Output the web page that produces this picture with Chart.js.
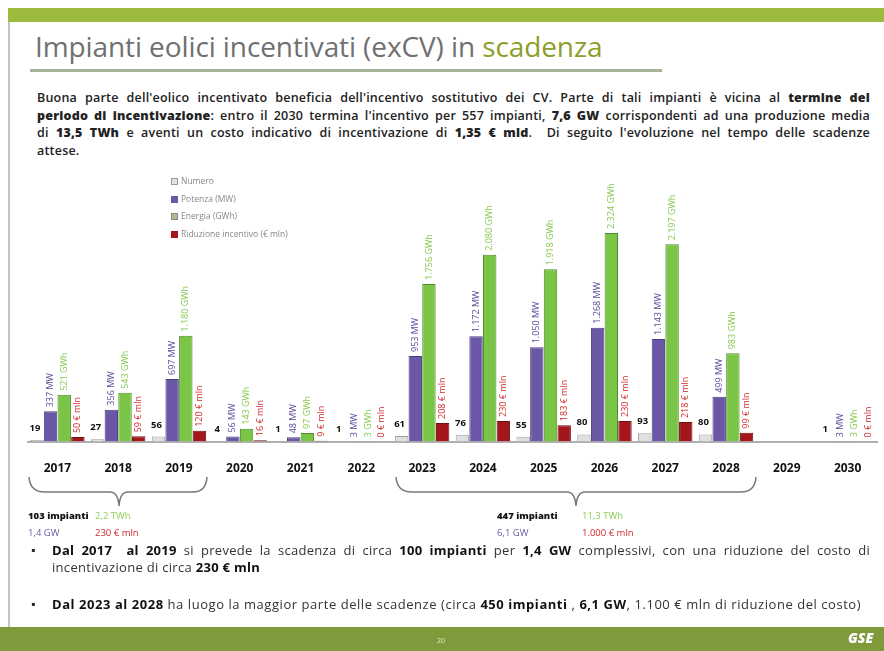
<!DOCTYPE html>
<html><head><meta charset="utf-8">
<script src="https://cdn.jsdelivr.net/npm/chart.js@4/dist/chart.umd.min.js"></script>
<style>
body{margin:0;background:#fff;}
#page{position:relative;width:884px;height:651px;overflow:hidden;background:#fff;font-family:"Open Sans",sans-serif;}
.abs{position:absolute;}
#title{left:35px;top:27px;font-size:28px;color:#707070;white-space:nowrap;letter-spacing:-0.1px;}
#title span{color:#8c9e2c;}
#para{left:37px;top:89px;width:833px;font-size:12.5px;line-height:17.5px;color:#222;font-weight:600;letter-spacing:0.2px;}
#para div{text-align:justify;text-align-last:justify;white-space:nowrap;}
#para div.last{text-align-last:left;}
#para b{font-weight:800;}
#legend{left:171px;top:172px;font-size:8.5px;color:#888;line-height:17.5px;}
#legend i{display:inline-block;width:7px;height:7px;margin-right:3px;vertical-align:-1px;box-sizing:border-box;}
.sum{font-size:9.5px;white-space:nowrap;}
.bul{left:52px;font-size:13px;color:#333;font-weight:400;white-space:nowrap;letter-spacing:0.55px;}
.bul b{font-weight:700;color:#111;}
.mk{left:31px;font-size:12px;color:#222;}
#b1{width:818px;text-align:justify;text-align-last:justify;letter-spacing:0.3px;}
</style></head>
<body><div id="page">
<div class="abs" style="left:8px;top:8px;width:876px;height:14px;background:#9cba3c;"></div>
<div class="abs" style="left:8px;top:22px;width:2px;height:605px;background:#c4c4c4;"></div>
<div class="abs" id="title">Impianti eolici incentivati (exCV) in <span>scadenza</span></div>
<div class="abs" style="left:30px;top:69px;width:632px;height:3px;background:#a8b29a;"></div>
<div class="abs" id="para">
<div>Buona parte dell'eolico incentivato beneficia dell'incentivo sostitutivo dei CV. Parte di tali impianti è vicina al <b>termine del</b></div>
<div><b>periodo di incentivazione</b>: entro il 2030 termina l'incentivo per 557 impianti, <b>7,6 GW</b> corrispondenti ad una produzione media</div>
<div>di <b>13,5 TWh</b> e aventi un costo indicativo di incentivazione di <b>1,35 € mld</b>.&nbsp; Di seguito l'evoluzione nel tempo delle scadenze</div>
<div class="last">attese.</div>
</div>
<div class="abs" style="left:27px;top:165px;width:851px;height:323px;"><canvas id="c" width="851" height="323"></canvas></div>
<div class="abs" id="legend">
<div><i style="background:#e2e2e2;border:1px solid #999"></i>Numero</div>
<div><i style="background:#6a58a6"></i>Potenza (MW)</div>
<div><i style="background:#a9c08e;border:1px solid #888"></i>Energia (GWh)</div>
<div><i style="background:#a3171c"></i>Riduzione incentivo (€ mln)</div>
</div>
<svg class="abs" style="left:0;top:0" width="884" height="651">
<path d="M29 477 Q30 492 45 492 L110 492 Q118 492 119 506 Q120 492 128 492 L193 492 Q206 492 207 477" fill="none" stroke="#777" stroke-width="1.5"/>
<path d="M396 477 Q397 492 412 492 L567 492 Q575 492 576 506 Q577 492 585 492 L741 492 Q755 492 756 477" fill="none" stroke="#777" stroke-width="1.5"/>
</svg>
<div class="abs sum" style="left:28px;top:509px;color:#111;font-weight:800;">103 impianti</div>
<div class="abs sum" style="left:95px;top:509px;color:#8fcf55;">2,2 TWh</div>
<div class="abs sum" style="left:28px;top:526px;color:#6a5aa6;">1,4 GW</div>
<div class="abs sum" style="left:95px;top:526px;color:#d0292a;">230 € mln</div>
<div class="abs sum" style="left:497px;top:509px;color:#111;font-weight:800;">447 impianti</div>
<div class="abs sum" style="left:582px;top:509px;color:#8fcf55;">11,3 TWh</div>
<div class="abs sum" style="left:497px;top:526px;color:#6a5aa6;">6,1 GW</div>
<div class="abs sum" style="left:582px;top:526px;color:#d0292a;">1.000 € mln</div>
<div class="abs mk" style="top:541px;">▪</div>
<div class="abs bul" id="b1" style="top:541px;"><b>Dal 2017&nbsp; al 2019</b> si prevede la scadenza di circa <b>100 impianti</b> per <b>1,4 GW</b> complessivi, con una riduzione del costo di</div>
<div class="abs bul" style="top:558px;letter-spacing:0.3px;">incentivazione di circa <b>230 € mln</b></div>
<div class="abs mk" style="top:595px;">▪</div>
<div class="abs bul" style="top:595px;"><b>Dal 2023 al 2028</b> ha luogo la maggior parte delle scadenze (circa <b>450 impianti</b> , <b>6,1 GW</b>, 1.100 € mln di riduzione del costo)</div>
<div class="abs" style="left:0;top:627px;width:884px;height:24px;background:#7e9a3b;"></div>
<div class="abs" style="left:437px;top:636px;font-size:7px;color:#dfe8c8;">20</div>
<div class="abs" style="left:848px;top:628px;font-size:14px;font-style:italic;font-weight:800;color:#fff;">GSE</div>
</div>
<script>
const years = ['2017','2018','2019','2020','2021','2022','2023','2024','2025','2026','2027','2028','2029','2030'];
const numero = [19, 27, 56, 4, 1, 1, 61, 76, 55, 80, 93, 80, null, 1];
const potenza = [337, 356, 697, 56, 48, 3, 953, 1172, 1050, 1268, 1143, 499, null, 3];
const energia = [521, 543, 1180, 143, 97, 3, 1756, 2080, 1918, 2324, 2197, 983, null, 3];
const riduzione = [50, 59, 120, 16, 9, 0, 208, 230, 183, 230, 218, 99, null, 0];
const seriesNames = ['Numero', 'Potenza (MW)', 'Energia (GWh)', 'Riduzione incentivo (€ mln)'];
const units = ['', ' MW', ' GWh', ' € mln'];

function fmt(v){ return String(v).replace(/\B(?=(\d{3})+(?!\d))/g, '.'); }

const labelColors = ['#111', '#5b4b9e', '#86c94e', '#d0292a'];
const labelPlugin = {
  id: 'barLabels',
  afterDatasetsDraw(chart){
    const ctx = chart.ctx;
    chart.data.datasets.forEach((ds, i) => {
      const meta = chart.getDatasetMeta(i);
      meta.data.forEach((bar, j) => {
        const v = ds.data[j];
        if (v === null || v === undefined) return;
        ctx.save();
        if (i === 0) {
          ctx.font = 'bold 9.5px "Open Sans"';
          ctx.fillStyle = labelColors[0];
          ctx.textAlign = 'center';
          ctx.textBaseline = 'bottom';
          ctx.fillText(fmt(v), bar.x - 2, bar.y - 7);
        } else {
          ctx.font = '9px "Open Sans"';
          ctx.fillStyle = labelColors[i];
          ctx.translate(bar.x, bar.y - 4);
          ctx.rotate(-Math.PI / 2);
          ctx.textAlign = 'left';
          ctx.textBaseline = 'middle';
          ctx.fillText(fmt(v) + units[i], 0, 0);
        }
        ctx.restore();
      });
    });
  }
};

new Chart(document.getElementById('c'), {
  type: 'bar',
  data: {
    labels: years,
    datasets: [
      { label: seriesNames[0], data: numero, backgroundColor: '#e0e0e0', borderColor: '#a0a0a0', borderWidth: 1 },
      { label: seriesNames[1], data: potenza, backgroundColor: '#6a58a6', borderColor: '#4a3d80', borderWidth: 1 },
      { label: seriesNames[2], data: energia, backgroundColor: '#7ac545', borderColor: '#4f8a2c', borderWidth: 1 },
      { label: seriesNames[3], data: riduzione, backgroundColor: '#a3171c', borderColor: '#6e0f12', borderWidth: 1 }
    ]
  },
  options: {
    responsive: false,
    animation: false,
    layout: { padding: 0 },
    datasets: { bar: { categoryPercentage: 0.9, barPercentage: 0.98 } },
    plugins: { legend: { display: false }, tooltip: { enabled: false } },
    scales: {
      x: {
        grid: { display: false },
        border: { color: '#b0b0b0', width: 2 },
        ticks: { color: '#111', font: { family: 'Open Sans', size: 12, weight: 'bold' }, padding: 12 }
      },
      y: { display: false, min: 0, max: 3080 }
    }
  },
  plugins: [labelPlugin]
});
</script>
</body></html>
